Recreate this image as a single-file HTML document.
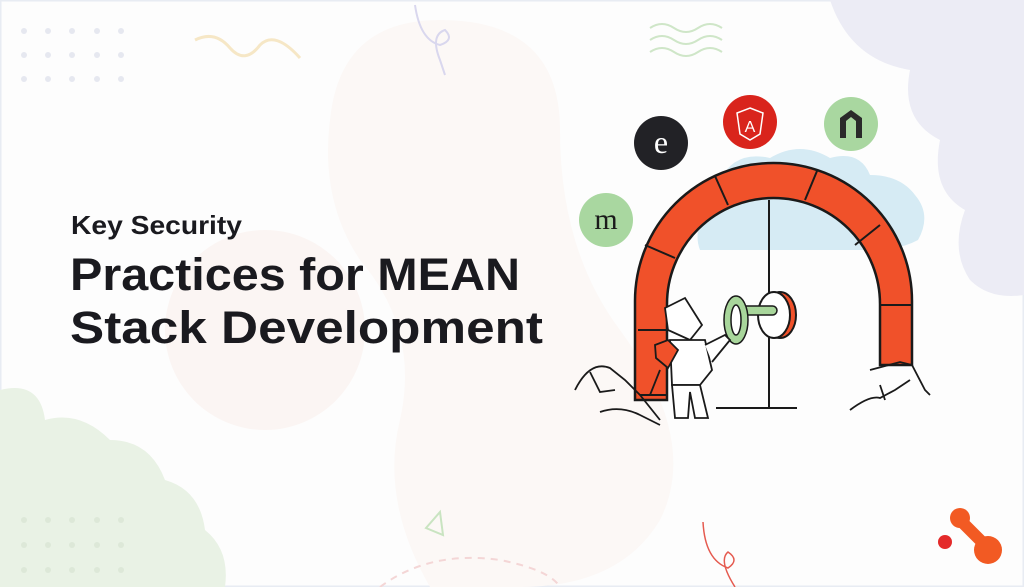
<!DOCTYPE html>
<html><head><meta charset="utf-8"><style>
html,body{margin:0;padding:0;background:#fff}
svg{display:block}
</style></head><body>
<svg width="1024" height="587" viewBox="0 0 1024 587" xmlns="http://www.w3.org/2000/svg">
<rect width="1024" height="587" fill="#fdfdfd"/>
<rect x="0.5" y="0.5" width="1023" height="586" fill="none" stroke="#e8ecf3" stroke-width="2"/>
<path d="M330 120 Q340 20 440 20 Q560 20 560 130 Q560 250 620 330 Q700 440 660 520 Q620 587 520 587 L430 587 Q380 500 400 420 Q420 330 360 260 Q320 200 330 120Z" fill="#fcf8f6"/>
<circle cx="265" cy="330" r="100" fill="#fbf5f3"/>
<path d="M830 0 L1024 0 L1024 295 Q990 300 970 280 Q950 250 965 210 Q930 190 940 140 Q900 120 910 70 Q850 60 830 0Z" fill="#ececf5"/>
<path d="M0 390 Q40 380 45 420 Q80 410 110 440 Q150 440 165 480 Q200 490 205 530 Q230 550 225 587 L0 587Z" fill="#e9f2e5"/>
<g fill="#e6e8f0">
<circle cx="24" cy="31" r="3"/><circle cx="48" cy="31" r="3"/><circle cx="72" cy="31" r="3"/><circle cx="97" cy="31" r="3"/><circle cx="121" cy="31" r="3"/>
<circle cx="24" cy="55" r="3"/><circle cx="48" cy="55" r="3"/><circle cx="72" cy="55" r="3"/><circle cx="97" cy="55" r="3"/><circle cx="121" cy="55" r="3"/>
<circle cx="24" cy="79" r="3"/><circle cx="48" cy="79" r="3"/><circle cx="72" cy="79" r="3"/><circle cx="97" cy="79" r="3"/><circle cx="121" cy="79" r="3"/>
</g>
<g fill="#dde8d8">
<circle cx="24" cy="520" r="3"/><circle cx="48" cy="520" r="3"/><circle cx="72" cy="520" r="3"/><circle cx="97" cy="520" r="3"/><circle cx="121" cy="520" r="3"/>
<circle cx="24" cy="545" r="3"/><circle cx="48" cy="545" r="3"/><circle cx="72" cy="545" r="3"/><circle cx="97" cy="545" r="3"/><circle cx="121" cy="545" r="3"/>
<circle cx="24" cy="570" r="3"/><circle cx="48" cy="570" r="3"/><circle cx="72" cy="570" r="3"/><circle cx="97" cy="570" r="3"/><circle cx="121" cy="570" r="3"/>
</g>
<path d="M195 40 Q215 30 230 48 Q245 65 260 45 Q275 30 300 58" fill="none" stroke="#f6e7c6" stroke-width="3"/>
<path d="M415 5 Q420 40 440 45 Q455 40 445 30 Q430 35 440 60 L445 75" fill="none" stroke="#d9d7ee" stroke-width="2"/>
<g fill="none" stroke="#cfe6c8" stroke-width="2">
<path d="M650 28 q12 -8 24 0 t24 0 t24 0"/><path d="M650 40 q12 -8 24 0 t24 0 t24 0"/><path d="M650 52 q12 -8 24 0 t24 0 t24 0"/>
</g>
<path d="M426 528 L440 512 L443 535Z" fill="none" stroke="#c9e4c1" stroke-width="2"/>
<path d="M380 587 Q430 550 500 560 Q550 570 560 587" fill="none" stroke="#f4d6d6" stroke-width="2" stroke-dasharray="7 6"/>
<path d="M703 522 Q705 560 728 568 Q740 560 728 552 Q718 560 735 587" fill="none" stroke="#e55a4f" stroke-width="1.5"/>
<path d="M960 520 L985 545" stroke="#f25a23" stroke-width="12" stroke-linecap="round"/>
<circle cx="960" cy="518" r="10" fill="#f25a23"/><circle cx="988" cy="550" r="14" fill="#f25a23"/>
<circle cx="945" cy="542" r="7" fill="#e42a2a"/>
<g font-family="Liberation Sans, sans-serif" font-weight="700" fill="#1a1a1f">
<text x="71" y="234" font-size="26" textLength="171" lengthAdjust="spacingAndGlyphs">Key Security</text>
<text x="70" y="290" font-size="45" textLength="450" lengthAdjust="spacingAndGlyphs">Practices for MEAN</text>
<text x="70" y="343" font-size="45" textLength="473" lengthAdjust="spacingAndGlyphs">Stack Development</text>
</g>
<path d="M720 180 Q735 150 770 158 Q800 140 830 158 Q860 150 870 175 Q900 175 915 195 Q932 215 918 240 Q900 250 870 250 L700 250 Q690 225 720 180Z" fill="#d6ebf4"/>
<path d="M635 400 L635 301 A138.5 138 0 0 1 912 301 L912 365 L880 365 L880 304 A106.5 106 0 0 0 667 304 L667 400Z" fill="#f0512a" stroke="#1a1a1a" stroke-width="2.5"/>
<g stroke="#1a1a1a" stroke-width="2">
<line x1="638" y1="330" x2="667" y2="330"/><line x1="880" y1="305" x2="912" y2="305"/>
<line x1="645" y1="245" x2="675" y2="258"/><line x1="715" y1="176" x2="728" y2="205"/>
<line x1="817" y1="171" x2="805" y2="200"/><line x1="880" y1="225" x2="855" y2="245"/>
<line x1="640" y1="395" x2="667" y2="395"/>
</g>
<g stroke="#1a1a1a" stroke-width="2" fill="none">
<line x1="769" y1="200" x2="769" y2="408"/><line x1="716" y1="408" x2="797" y2="408"/>
</g>
<ellipse cx="780" cy="315" rx="16" ry="23" fill="#f0512a" stroke="#1a1a1a" stroke-width="2"/>
<ellipse cx="774" cy="315" rx="16" ry="23" fill="#fff" stroke="#1a1a1a" stroke-width="2"/>
<rect x="737" y="306" width="40" height="9" rx="4.5" fill="#a8d69b" stroke="#1a1a1a" stroke-width="1.5"/>
<ellipse cx="736" cy="320" rx="12" ry="24" fill="#a8d69b" stroke="#1a1a1a" stroke-width="1.5"/>
<ellipse cx="736" cy="320" rx="5" ry="15" fill="#fff" stroke="#1a1a1a" stroke-width="1.5"/>
<g stroke="#1a1a1a" stroke-width="1.8" fill="#fff">
<path d="M665 308 L685 298 L702 325 L690 340 L668 330Z"/>
<path d="M670 340 L705 340 L712 370 L700 385 L672 385Z"/>
<path d="M672 385 L675 418 L688 418 L690 392 L695 418 L708 418 L700 385Z"/>
<path d="M705 345 L725 335 L730 340 L712 362"/>
<path d="M655 345 L668 340 L678 350 L668 368 L656 358Z" fill="#f0512a"/>
<path d="M660 370 L650 395"/>
</g>
<g stroke="#1a1a1a" stroke-width="1.8" fill="none">
<path d="M575 390 Q590 360 610 368 L625 380 L640 395 L660 420"/>
<path d="M600 412 Q620 405 640 415 L660 425"/>
<path d="M590 372 L600 392 L615 390"/>
<path d="M850 410 Q870 395 880 398 L895 390 L910 380"/>
<path d="M870 370 L900 362 L912 365 L925 390 L930 395"/>
<path d="M880 385 L885 400"/>
</g>
<circle cx="606" cy="220" r="27" fill="#a9d7a0"/>
<text x="606" y="229" font-family="Liberation Serif, serif" font-size="30" text-anchor="middle" fill="#1a1a1a">m</text>
<circle cx="661" cy="143" r="27" fill="#222226"/>
<text x="661" y="153" font-family="Liberation Serif, serif" font-size="32" text-anchor="middle" fill="#fff">e</text>
<circle cx="750" cy="122" r="27" fill="#d9241c"/>
<path d="M750 108 L763 113 L760 134 L750 140 L740 134 L737 113Z" fill="none" stroke="#fff" stroke-width="1.5"/>
<text x="750" y="132" font-family="Liberation Sans, sans-serif" font-size="16" text-anchor="middle" fill="#fff">A</text>
<circle cx="851" cy="124" r="27" fill="#a9d7a0"/>
<path d="M840 138 L840 118 L851 110 L862 118 L862 138 L856 138 L856 121 L851 117 L846 121 L846 138Z" fill="#2a2a2a"/>
</svg>
</body></html>
